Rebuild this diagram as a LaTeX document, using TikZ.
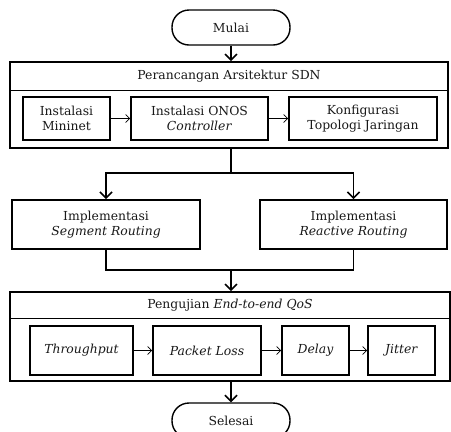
\documentclass[tikz,border=0pt]{standalone}
\usepackage{fontspec}
\setmainfont{DejaVu Serif}
\usepackage{tikz}
\usetikzlibrary{arrows.meta}

\tikzset{
  every node/.style={font=\fontsize{12.4}{15}\selectfont, text=black!90, align=center, inner sep=0pt},
  terminal/.style={draw, line width=1.4pt, rounded corners=17pt, minimum width=118, minimum height=35},
  outerbox/.style={draw, line width=1.6pt},
  stepbox/.style={draw, line width=1.8pt, minimum height=43},
  flow/.style={line width=1.6pt, -{Straight Barb[length=6pt,width=12pt,line width=1.6pt]}},
  thinflow/.style={line width=0.7pt, -{Straight Barb[length=4pt,width=8pt]}}
}

\begin{document}
\begin{tikzpicture}[x=1pt, y=-1pt]
\useasboundingbox (0,0) rectangle (451,432);

% Start and end
\node[terminal] (mulai) at (231,27.5) {Mulai};
\node[terminal] (selesai) at (231,420.5) {Selesai};

% Perancangan Arsitektur SDN
\node[outerbox, minimum width=438, minimum height=86] (sdn) at (229,105) {};
\node[minimum height=28] (sdnTitle) at (229,76) {Perancangan Arsitektur SDN};
\draw[line width=1.2pt] (sdn.west |- sdnTitle.south) -- (sdn.east |- sdnTitle.south);

\node[stepbox, minimum width=87] (mininet) at (66.5,118.5) {Instalasi\\Mininet};
\node[stepbox, minimum width=137] (onos) at (199.5,118.5) {Instalasi ONOS\\\textit{Controller}};
\node[stepbox, minimum width=148] (topo) at (363,118.5) {Konfigurasi\\Topologi Jaringan};

\draw[thinflow] (mininet) -- (onos);
\draw[thinflow] (onos) -- (topo);

% Implementasi
\node[stepbox, minimum width=188, minimum height=49] (segment) at (106,224.5) {Implementasi\\\textit{Segment Routing}};
\node[stepbox, minimum width=187, minimum height=49] (reactive) at (353.5,224.5) {Implementasi\\\textit{Reactive Routing}};

\coordinate (split) at (231,173);
\coordinate (join) at (231,270);

\draw[line width=1.6pt] (sdn.south -| split) -- (split);
\draw[flow] (split) -| (segment.north);
\draw[flow] (split) -| (reactive.north);
\draw[line width=1.6pt] (segment.south) |- (join) -| (reactive.south);

% Pengujian End-to-end QoS
\node[outerbox, minimum width=440, minimum height=89] (qos) at (230,336.5) {};
\node[minimum height=26] (qosTitle) at (230,305) {Pengujian \textit{End-to-end QoS}};
\draw[line width=1.2pt] (qos.west |- qosTitle.south) -- (qos.east |- qosTitle.south);

\node[stepbox, minimum width=103, minimum height=49] (throughput) at (81.5,350.5) {\textit{Throughput}};
\node[stepbox, minimum width=108, minimum height=49] (loss) at (207,350.5) {\textit{Packet Loss}};
\node[stepbox, minimum width=67, minimum height=49] (delay) at (315.5,350.5) {\textit{Delay}};
\node[stepbox, minimum width=67, minimum height=49] (jitter) at (401.5,350.5) {\textit{Jitter}};

\draw[thinflow] (throughput) -- (loss);
\draw[thinflow] (loss) -- (delay);
\draw[thinflow] (delay) -- (jitter);

% Main flow
\draw[flow] (mulai) -- (sdn.north -| mulai);
\draw[flow] (join) -- (qos.north -| join);
\draw[flow] (qos.south -| selesai) -- (selesai);
\end{tikzpicture}
\end{document}
